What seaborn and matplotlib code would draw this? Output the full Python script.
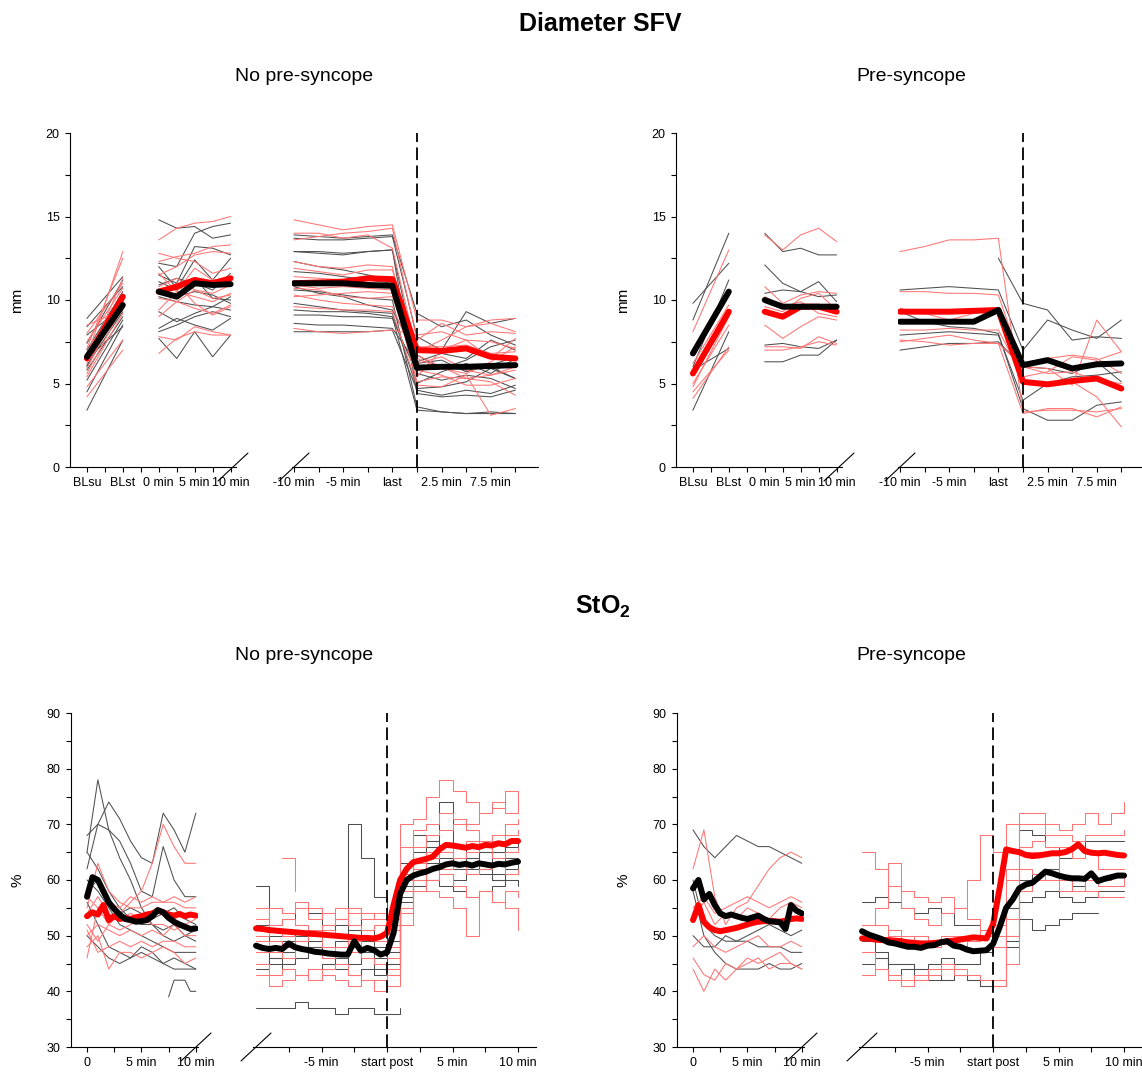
import numpy as np
import seaborn as sns
import matplotlib
matplotlib.use("Agg")
import matplotlib.pyplot as plt
from matplotlib.lines import Line2D

### Data

# top row: diameter SFV in mm
# categories of the first block / second block
cat_first = ["BLsu", "BLst", "0 min", "5 min", "10 min"]
cat_second = ["-10 min", "-5 min", "last", "2.5 min", "7.5 min"]

# No pre-syncope, grey subjects: baseline pairs (BLsu, BLst)
tl_gray_bl = [[3.4, 7.6], [4.5, 8.5], [5.2, 8.8], [5.8, 9.0], [6.1, 9.3], [6.5, 8.4],
              [7.0, 10.5], [7.4, 11.2], [7.9, 9.6], [8.4, 10.8], [8.9, 11.4], [6.0, 9.9]]
tl_red_bl = [[4.2, 7.0], [4.8, 7.6], [5.4, 9.2], [5.9, 10.1], [6.2, 11.3], [6.6, 12.9],
             [7.1, 12.5], [7.5, 10.7], [8.0, 11.0], [8.5, 9.4], [6.8, 10.3], [5.6, 9.6]]
# 0, 2.5, 5, 7.5, 10 min of tilt
tl_gray_early = [[14.8, 14.3, 14.4, 13.7, 13.9], [12.2, 12.0, 14.0, 14.4, 14.6],
                 [11.5, 11.0, 13.2, 13.1, 12.7], [12.0, 10.7, 12.4, 11.2, 12.5],
                 [11.1, 10.6, 11.3, 10.1, 10.0], [10.6, 10.2, 10.5, 10.3, 9.8],
                 [10.2, 9.9, 9.7, 9.6, 10.2], [9.3, 8.7, 9.2, 9.6, 9.4],
                 [8.1, 8.5, 9.0, 9.3, 9.0], [8.3, 8.9, 8.5, 8.2, 8.9],
                 [7.7, 6.5, 8.1, 6.6, 7.9], [10.9, 11.3, 11.0, 10.6, 11.6]]
tl_red_early = [[13.6, 14.3, 14.6, 14.7, 15.0], [12.3, 12.6, 12.8, 13.2, 13.3],
                [11.5, 12.0, 12.7, 12.9, 12.8], [12.8, 12.5, 12.3, 11.6, 11.9],
                [11.6, 10.5, 11.9, 11.2, 11.3], [10.8, 11.3, 10.6, 10.4, 10.9],
                [10.1, 9.9, 10.6, 10.1, 10.3], [9.4, 10.5, 10.2, 9.9, 10.4],
                [9.0, 9.9, 9.5, 9.2, 9.7], [7.8, 7.6, 8.4, 8.1, 7.9],
                [6.8, 7.7, 8.1, 7.9, 7.9], [10.5, 11.0, 9.8, 9.1, 9.6]]
# -10, -7.5, -5, -2.5, last, post 0, 2.5, 5, 7.5, 10 min
tl_gray_late = [[13.9, 13.8, 13.7, 13.8, 13.9, 9.2, 8.4, 8.8, 7.9, 7.3],
                [13.7, 13.6, 13.6, 13.7, 13.8, 7.8, 7.0, 9.3, 8.6, 8.9],
                [12.9, 12.9, 12.8, 12.9, 13.0, 6.3, 6.8, 6.5, 7.6, 7.0],
                [12.9, 12.8, 12.7, 12.9, 13.0, 4.4, 4.2, 4.3, 4.2, 4.6],
                [12.3, 12.0, 11.8, 11.5, 11.2, 5.8, 6.1, 5.8, 6.0, 5.3],
                [11.7, 11.6, 11.4, 11.2, 11.0, 5.0, 5.7, 6.2, 5.6, 6.5],
                [10.6, 10.5, 10.3, 10.1, 10.0, 3.6, 3.3, 3.2, 3.2, 3.2],
                [10.8, 10.4, 10.2, 9.7, 9.4, 6.7, 5.9, 6.4, 7.2, 7.6],
                [9.8, 9.6, 9.4, 9.3, 9.2, 4.7, 4.8, 5.1, 5.9, 5.3],
                [9.4, 9.3, 9.3, 9.2, 9.0, 3.4, 3.3, 3.2, 3.3, 3.2],
                [9.1, 9.1, 9.0, 9.0, 8.9, 5.6, 5.2, 5.5, 5.3, 4.7],
                [8.6, 8.5, 8.5, 8.4, 8.3, 6.2, 6.4, 5.7, 6.1, 6.6],
                [8.1, 8.1, 8.1, 8.1, 8.2, 4.6, 4.3, 4.6, 4.4, 4.9]]
tl_red_late = [[14.8, 14.5, 14.2, 14.4, 14.5, 8.8, 8.8, 8.4, 8.8, 8.9],
               [13.6, 13.8, 14.0, 14.1, 14.3, 7.6, 8.6, 7.9, 8.1, 8.0],
               [14.0, 14.0, 13.7, 13.9, 13.1, 6.9, 7.6, 8.4, 8.6, 8.1],
               [12.3, 12.0, 11.9, 12.1, 12.0, 5.4, 7.0, 7.6, 7.5, 7.1],
               [11.9, 11.7, 11.5, 11.8, 11.8, 7.2, 7.2, 7.3, 6.8, 6.9],
               [11.4, 11.3, 11.2, 11.3, 11.3, 6.5, 5.9, 5.6, 6.3, 7.2],
               [10.9, 10.7, 10.8, 10.7, 10.6, 5.1, 5.4, 5.3, 5.1, 4.3],
               [10.2, 10.3, 10.4, 10.5, 10.4, 5.8, 5.5, 4.9, 4.9, 5.3],
               [10.3, 10.0, 9.8, 9.7, 9.6, 6.2, 6.6, 5.8, 5.5, 6.0],
               [9.6, 9.5, 9.4, 9.4, 9.3, 4.9, 4.8, 5.5, 3.1, 3.5],
               [8.3, 8.1, 8.0, 8.1, 8.2, 7.9, 8.1, 7.6, 6.5, 7.7],
               [10.7, 10.6, 10.2, 10.1, 10.2, 6.7, 6.0, 5.3, 5.5, 5.8]]
tl_black_bl = [6.6, 9.7]
tl_red_mean_bl = [6.5, 10.2]
tl_black_early = [10.5, 10.2, 11.0, 10.9, 10.95]
tl_red_mean_early = [10.5, 10.8, 11.2, 11.0, 11.3]
tl_black_late = [11.0, 11.0, 11.0, 10.9, 10.85, 5.95, 6.0, 6.0, 6.05, 6.1]
tl_red_mean_late = [11.0, 11.05, 11.1, 11.3, 11.25, 7.0, 6.95, 7.1, 6.6, 6.5]

# Pre-syncope
tr_gray_bl = [[9.8, 12.2], [8.8, 14.0], [5.8, 7.1], [3.4, 8.1], [6.0, 11.2]]
tr_red_bl = [[8.1, 13.0], [6.2, 9.7], [4.5, 7.0], [5.0, 8.5], [4.1, 7.2], [4.8, 9.0]]
tr_gray_early = [[14.0, 12.9, 13.1, 12.7, 12.7], [12.1, 11.0, 10.5, 11.1, 9.9],
                 [10.4, 10.6, 10.5, 10.2, 10.3], [7.3, 7.4, 7.2, 7.1, 7.6],
                 [6.3, 6.3, 6.7, 6.7, 7.6]]
tr_red_early = [[13.9, 13.0, 13.9, 14.3, 13.5], [10.8, 9.8, 10.3, 10.5, 10.4],
                [10.2, 9.6, 9.9, 9.2, 9.0], [8.5, 7.7, 8.4, 9.0, 8.8],
                [7.2, 7.2, 7.1, 7.8, 7.4], [7.0, 7.0, 7.2, 7.5, 7.3],
                [9.6, 9.3, 10.1, 10.4, 9.4]]
tr_gray_late = [[10.6, 10.7, 10.8, 10.7, 10.6, 7.0, 8.8, 8.2, 7.7, 8.8],
                [np.nan, np.nan, np.nan, np.nan, 12.5, 9.8, 9.4, 7.6, 7.8, 7.7],
                [9.3, 8.7, 8.4, 8.3, 8.0, 3.5, 2.8, 2.8, 3.7, 3.9],
                [7.9, 8.0, 8.1, 8.0, 7.9, 4.0, 5.0, 5.4, 5.5, 5.7],
                [7.0, 7.2, 7.4, 7.4, 7.5, 6.0, 5.9, 5.6, 6.3, 5.1]]
tr_red_late = [[12.9, 13.2, 13.6, 13.6, 13.7, 3.3, 3.4, 3.4, 3.3, 3.5],
               [10.5, 10.5, 10.4, 10.4, 10.3, 6.0, 5.6, 5.7, 5.2, 5.0],
               [9.5, 9.2, 8.8, 9.2, 9.5, 6.0, 6.5, 6.7, 6.5, 5.6],
               [8.2, 8.2, 8.3, 8.2, 8.2, 5.4, 5.7, 6.6, 6.4, 6.9],
               [7.5, 7.7, 7.9, 7.6, 7.4, 3.2, 3.5, 3.5, 3.0, 3.6],
               [7.6, 7.5, 7.3, 7.4, 7.4, 6.0, 5.9, 4.9, 8.8, 6.9],
               [9.2, 9.3, 9.3, 9.3, 9.2, 5.0, 4.9, 5.1, 4.2, 2.4]]
tr_black_bl = [6.8, 10.5]
tr_red_mean_bl = [5.6, 9.3]
tr_black_early = [10.0, 9.6, 9.6, 9.6, 9.6]
tr_red_mean_early = [9.3, 9.0, 9.6, 9.6, 9.3]
tr_black_late = [8.7, 8.7, 8.7, 8.7, 9.4, 6.1, 6.4, 5.9, 6.15, 6.2]
tr_red_mean_late = [9.3, 9.3, 9.3, 9.35, 9.4, 5.1, 4.95, 5.15, 5.3, 4.7]

# bottom row: StO2 in %, thin lines sampled every minute
t_early_1 = np.arange(0, 11)        # 0..10 min of tilt
t_late_1 = np.arange(-10, 11)       # -10 .. start post .. 10 min
t_early_h = np.arange(0, 10.5, 0.5)  # means, every half minute
t_late_h = np.arange(-10, 10.5, 0.5)

bl_gray_early = [[65, 78, 69, 64, 60, 55, 52, 50, 49, 50, 49],
                 [62, 70, 74, 71, 67, 64, 63, 72, 69, 65, 72],
                 [68, 70, 69, 67, 63, 58, 57, 66, 60, 57, 57],
                 [65, 62, 58, 55, 53, 52, 52, 51, 52, 50, 51],
                 [56, 52, 48, 47, 46, 47, 46, 45, 46, 45, 44],
                 [50, 48, 46, 45, 46, 48, 47, 45, 44, 44, 44],
                 [60, 58, 55, 52, 51, 50, 49, 48, 47, 47, 47],
                 [58, 60, 56, 54, 55, 54, 53, 54, 55, 53, 52]]
bl_gray_short_t = [7.5, 8, 9, 9.5, 10]
bl_gray_short_v = [39, 42, 42, 40, 40]
bl_red_early = [[46, 55, 52, 54, 56, 58, 63, 70, 66, 63, 63],
                [55, 63, 58, 56, 55, 55, 56, 56, 56, 55, 55],
                [54, 57, 54, 53, 54, 53, 54, 54, 53, 54, 54],
                [50, 52, 51, 50, 51, 50, 51, 50, 52, 50, 50],
                [48, 50, 44, 47, 47, 46, 47, 48, 47, 45, 46],
                [52, 49, 52, 51, 52, 53, 52, 52, 51, 52, 53],
                [57, 55, 56, 55, 57, 56, 57, 56, 57, 56, 57],
                [51, 47, 48, 49, 48, 49, 48, 49, 49, 48, 48]]
nan = np.nan
bl_gray_late = [[59, 52, 53, 55, 54, 52, 53, 55, 51, 50, 49, 60, 65, 67, 66, 64, 63, 65, 64, 66, 67],
                [50, 49, 48, 49, 48, 47, 46, 50, 47, 46, 45, 58, 62, 63, 64, 62, 61, 62, 60, 62, 63],
                [47, 46, 45, 46, 47, 46, 45, 70, 64, 57, 45, 63, 68, 66, 65, 63, 64, 66, 65, 67, 66],
                [45, 46, 47, 46, 48, 47, 46, 45, 46, 44, 44, 55, 60, 62, 63, 62, 64, 65, 63, 64, 62],
                [44, 45, 44, 43, 44, 45, 44, 43, 44, 43, 43, 56, 59, 60, 61, 60, 62, 61, 60, 61, 62],
                [48, 47, 49, 48, 47, 48, 49, 48, 47, 48, 47, 57, 61, 64, 74, 66, 63, 62, 61, 63, 64],
                [37, 37, 37, 38, 37, 37, 36, 37, 37, 36, 36, 37, nan, nan, nan, nan, nan, nan, nan, nan, nan],
                [52, 50, 51, 50, 49, 50, 52, 51, 49, 48, 47, 59, 63, 60, 59, 58, 57, 58, 59, 60, 59]]
bl_red_late = [[51, 55, 54, 56, 55, 54, 53, 55, 54, 53, 52, 70, 71, 75, 78, 76, 74, 72, 74, 72, 74],
               [53, 52, 53, 52, 51, 52, 53, 52, 51, 52, 51, 66, 69, 70, 72, 71, 70, 72, 73, 76, 74],
               [47, 49, 48, 49, 50, 48, 47, 49, 48, 47, 46, 60, 66, 68, 69, 70, 69, 67, 68, 70, 71],
               [43, 41, 42, 43, 44, 43, 42, 41, 42, 40, 41, 55, 62, 64, 65, 66, 67, 66, 67, 68, 69],
               [45, 43, 44, 43, 42, 44, 45, 43, 42, 42, 43, 52, 58, 60, 62, 63, 61, 62, 63, 61, 62],
               [55, 55, 54, 55, 53, 54, 55, 54, 53, 54, 53, 61, 63, 65, 66, 64, 65, 66, 64, 65, 66],
               [50, 51, 50, 49, 50, 51, 50, 49, 50, 49, 48, 58, 61, 60, 61, 59, 57, 58, 56, 58, 57],
               [nan, nan, 64, 58, nan, nan, nan, nan, nan, nan, nan, nan, nan, nan, nan, nan, nan, nan, nan, nan, nan],
               [49, 47, 46, 48, 47, 46, 48, 47, 46, 45, 44, 54, 60, 58, 57, 55, 50, 58, 56, 55, 51]]
bl_black_early = [57, 60.5, 60, 58, 56, 54.8, 53.8, 53, 52.8, 52.5, 52.6, 52.8, 53.5, 54.6,
                  54.2, 53.2, 52.5, 52, 51.6, 51.2, 51.3]
bl_red_mean_early = [53.5, 54.2, 53.8, 55.5, 52.8, 53.5, 53, 53.2, 53, 53.3, 53.5, 53.8, 54,
                     54.5, 54.2, 53.8, 53.6, 53.9, 53.5, 53.8, 53.6]
bl_black_late = [48.2, 47.8, 47.6, 47.8, 47.6, 48.6, 47.9, 47.6, 47.4, 47.1, 47.0, 46.8, 46.7,
                 46.6, 46.6, 49.0, 47.3, 47.8, 47.4, 46.6, 47.0, 50.5, 57.5, 60.0, 60.8, 61.2,
                 61.5, 62.0, 62.3, 62.8, 63.0, 62.7, 62.9, 62.6, 63.0, 62.8, 62.6, 62.9, 62.8,
                 63.1, 63.3]
bl_red_mean_late = [51.3, 51.2, 51.0, 50.9, 50.8, 50.7, 50.6, 50.5, 50.4, 50.3, 50.2, 50.1,
                    50.0, 49.9, 49.8, 49.7, 49.6, 49.6, 49.5, 49.8, 50.5, 55.5, 60.0, 62.0,
                    63.2, 63.5, 63.8, 64.2, 65.5, 66.3, 66.2, 66.0, 65.8, 66.1, 65.9, 66.3,
                    66.2, 66.6, 66.4, 67.0, 67.0]

br_gray_early = [[69, 66, 64, 66, 68, 67, 66, 66, 65, 64, 63],
                 [60, 52, 50, 49, 49, 49, 48, 48, 48, 47, 47],
                 [58, 50, 47, 45, 44, 44, 44, 45, 44, 44, 45],
                 [50, 48, 48, 50, 49, 50, 51, 52, 51, 50, 51]]
br_red_early = [[62, 69, 57, 52, 55, 56, 59, 62, 64, 65, 64],
                [55, 57, 54, 55, 56, 57, 56, 55, 56, 57, 56],
                [44, 40, 44, 42, 44, 45, 46, 44, 45, 45, 44],
                [46, 43, 42, 45, 44, 46, 45, 46, 47, 45, 44],
                [53, 56, 52, 54, 53, 55, 54, 53, 55, 56, 55],
                [48, 50, 48, 47, 48, 49, 50, 48, 48, 49, 48]]
br_gray_late = [[56, 57, 56, 55, 54, 55, 54, 52, 52, 51, 50, 55, 69, 68, 66, 64, 66, 67, 67, 67, 67],
                [nan, 47, 45, 45, 44, 43, 42, 43, 42, 41, 41, 50, 53, 51, 52, 53, 54, 54, 54, nan, nan],
                [49, 46, 43, 44, 42, 42, 42, 43, 42, 41, 41, 48, 60, 61, 62, 60, 59, 60, 60, 61, 61],
                [45, 46, 45, 45, 44, 45, 46, 45, 45, 47, 48, 49, 56, 57, 58, 57, 56, 57, 58, 58, 58]]
br_red_late = [[65, 62, 59, 58, 57, 56, 57, 55, 60, 68, 65, 70, 72, 72, 70, 69, 70, 72, 70, 72, 74],
               [52, 55, 63, 55, 53, 52, 54, 55, 53, 50, 50, 62, 70, 70, 68, 68, 67, 68, 68, 68, 69],
               [47, 44, 43, 42, 42, 43, 44, 43, 43, 42, 42, 50, 62, 61, 60, 58, 60, 60, 59, 59, 60],
               [52, 52, 50, 49, 50, 49, 50, 48, 49, 51, 52, 60, 66, 67, 66, 66, 64, 65, 62, 62, 62],
               [43, 44, 42, 41, 43, 44, 45, 44, 43, 42, 41, 45, 58, 60, 60, 58, 60, 58, 57, 57, 57],
               [50, 49, 51, 50, 49, 48, 49, 50, 49, 50, 48, 53, 65, 65, 65, 60, 58, 60, 60, 61, 60]]
br_black_early = [58.5, 60.0, 56.5, 57.5, 55.5, 54.0, 53.5, 53.8, 53.5, 53.2, 53.0, 53.3, 53.6,
                  53.0, 52.6, 52.5, 52.4, 51.2, 55.5, 54.5, 54.0]
br_red_mean_early = [52.8, 55.5, 52.5, 51.5, 51.0, 50.8, 51.0, 51.2, 51.4, 51.7, 52.0, 52.3,
                     52.5, 52.6, 52.6, 52.6, 52.5, 52.7, 53.0, 53.1, 53.0]
br_black_late = [50.8, 50.2, 49.8, 49.4, 48.8, 48.6, 48.3, 48.0, 48.0, 47.8, 48.2, 48.3, 48.8,
                 49.0, 48.2, 48.0, 47.5, 47.2, 47.3, 47.4, 48.5, 51.5, 55.0, 56.5, 58.5, 59.2,
                 59.5, 60.5, 61.5, 61.2, 60.8, 60.5, 60.3, 60.3, 60.2, 61.2, 59.8, 60.2, 60.5,
                 60.8, 60.8]
br_red_mean_late = [49.5, 49.5, 49.3, 49.2, 49.2, 49.1, 49.0, 48.8, 48.7, 48.6, 48.6, 48.7,
                    48.8, 49.0, 49.1, 49.3, 49.5, 49.7, 49.6, 49.5, 52.0, 58.5, 65.5, 65.2,
                    65.0, 64.5, 64.3, 64.4, 64.6, 64.8, 64.8, 65.0, 65.5, 66.4, 65.2, 64.9,
                    64.8, 64.9, 64.7, 64.5, 64.4]


### Style
sns.set_style("ticks")
plt.rcParams["font.family"] = ["Liberation Sans", "DejaVu Sans"]
plt.rcParams["mathtext.fontset"] = "custom"
plt.rcParams["mathtext.rm"] = "Liberation Sans"
plt.rcParams["mathtext.bf"] = "Liberation Sans:bold"
plt.rcParams["text.color"] = "black"
plt.rcParams["axes.labelcolor"] = "black"

GRAY = "#4f4f4f"
PINK = "#ff7474"
RED = "#ff0000"
THIN = 0.75
THICK = 4.3

W, H = 1142, 1073
fig = plt.figure(figsize=(W / 100, H / 100), dpi=100)


def add_ax(x0, x1, ytop, ybot):
    return fig.add_axes([x0 / W, 1 - ybot / H, (x1 - x0) / W, (ybot - ytop) / H])


def slash(xc, yc):
    # little "//" of the broken axis
    fig.add_artist(Line2D([(xc - 15) / W, (xc + 15) / W], [1 - (yc + 14) / H, 1 - (yc - 14) / H],
                          color="k", lw=0.8))


def line(ax, x, y, color, lw, steps=False, z=2):
    kw = dict(drawstyle="steps-post") if steps else {}
    sns.lineplot(x=list(x), y=list(y), ax=ax, color=color, lw=lw, errorbar=None, sort=False,
                 solid_capstyle="round", zorder=z, legend=False, **kw)


def style(ax, show_y=True):
    for s in ["top", "right"]:
        ax.spines[s].set_visible(False)
    ax.spines["bottom"].set_linewidth(0.8)
    ax.spines["left"].set_linewidth(0.8)
    ax.spines["bottom"].set_color("black")
    ax.spines["left"].set_color("black")
    ax.tick_params(which="both", direction="out", length=3.5, width=0.8, labelsize=9, pad=4,
                   colors="black")
    if not show_y:
        ax.spines["left"].set_visible(False)
        ax.tick_params(axis="y", which="both", left=False, labelleft=False)
    ax.set_xlabel("")
    ax.set_ylabel("")


### Top row: Diameter SFV
top_sets = [
    (0, tl_gray_bl, tl_red_bl, tl_gray_early, tl_red_early, tl_gray_late, tl_red_late,
     tl_black_bl, tl_red_mean_bl, tl_black_early, tl_red_mean_early, tl_black_late, tl_red_mean_late),
    (606, tr_gray_bl, tr_red_bl, tr_gray_early, tr_red_early, tr_gray_late, tr_red_late,
     tr_black_bl, tr_red_mean_bl, tr_black_early, tr_red_mean_early, tr_black_late, tr_red_mean_late),
]
pos_bl = [0, 1]
pos_early = [2, 2.5, 3, 3.5, 4]
pos_late = list(range(10))

for (off, g_bl, r_bl, g_e, r_e, g_l, r_l, kb, rb, ke, re_, kl, rl) in top_sets:
    axA = add_ax(70 + off, 236 + off, 133, 467)
    axB = add_ax(291.5 + off, 537.5 + off, 133, 467)

    for rows, col in [(g_bl, GRAY), (r_bl, PINK)]:
        for r in rows:
            line(axA, pos_bl, r, col, THIN)
    for rows, col in [(g_e, GRAY), (r_e, PINK)]:
        for r in rows:
            line(axA, pos_early, r, col, THIN)
    for rows, col in [(g_l, GRAY), (r_l, PINK)]:
        for r in rows:
            line(axB, pos_late, r, col, THIN)
    line(axA, pos_bl, rb, RED, THICK, z=3)
    line(axA, pos_bl, kb, "black", THICK, z=4)
    line(axA, pos_early, re_, RED, THICK, z=3)
    line(axA, pos_early, ke, "black", THICK, z=4)
    line(axB, pos_late, rl, RED, THICK, z=3)
    line(axB, pos_late, kl, "black", THICK, z=4)
    axB.axvline(5, color="black", lw=1.3, dashes=(7, 3), zorder=5)

    for ax in (axA, axB):
        ax.set_ylim(0, 20)
        ax.set_yticks([0, 5, 10, 15, 20])
        ax.set_yticks([2.5, 7.5, 12.5, 17.5], minor=True)
    axA.set_xlim(-0.47, 4.15)
    axA.set_xticks([0, 1, 2, 3, 4], cat_first)
    axA.set_xticks([0.5, 1.5, 2.5, 3.5], minor=True)
    axB.set_xlim(-0.1, 9.9)
    axB.set_xticks([0, 2, 4, 6, 8], cat_second)
    axB.set_xticks([1, 3, 5, 7, 9], minor=True)
    style(axA)
    style(axB, show_y=False)
    slash(233 + off, 467)
    slash(294 + off, 467)
    fig.text((17 + off) / W, 1 - 300 / H, "mm", rotation=90, ha="center", va="center", fontsize=11)

### Bottom row: StO2
bottom_sets = [
    (0, bl_gray_early, bl_red_early, bl_gray_late, bl_red_late,
     bl_black_early, bl_red_mean_early, bl_black_late, bl_red_mean_late),
    (606, br_gray_early, br_red_early, br_gray_late, br_red_late,
     br_black_early, br_red_mean_early, br_black_late, br_red_mean_late),
]
for (off, g_e, r_e, g_l, r_l, ke, re_, kl, rl) in bottom_sets:
    axC = add_ax(71 + off, 198 + off, 713, 1047)
    axD = add_ax(253.4 + off, 536.4 + off, 713, 1047)

    for rows, col in [(g_e, GRAY), (r_e, PINK)]:
        for r in rows:
            line(axC, t_early_1, r, col, THIN)
    if off == 0:
        line(axC, bl_gray_short_t, bl_gray_short_v, GRAY, THIN)
    for rows, col in [(g_l, GRAY), (r_l, PINK)]:
        for r in rows:
            line(axD, t_late_1, r, col, THIN, steps=True)
    line(axC, t_early_h, re_, RED, THICK, z=3)
    line(axC, t_early_h, ke, "black", THICK, z=4)
    line(axD, t_late_h, rl, RED, THICK, z=3)
    line(axD, t_late_h, kl, "black", THICK, z=4)
    axD.axvline(0, color="black", lw=1.3, dashes=(7, 3), zorder=5)

    for ax in (axC, axD):
        ax.set_ylim(30, 90)
        ax.set_yticks([30, 40, 50, 60, 70, 80, 90])
        ax.set_yticks([35, 45, 55, 65, 75, 85], minor=True)
    axC.set_xlim(-1.47, 10.2)
    axC.set_xticks([0, 5, 10], ["0", "5 min", "10 min"])
    axC.set_xticks([2.5, 7.5], minor=True)
    axD.set_xlim(-10.2, 11.4)
    axD.set_xticks([-5, 0, 5, 10], ["-5 min", "start post", "5 min", "10 min"])
    axD.set_xticks([-7.5, -2.5, 2.5, 7.5], minor=True)
    style(axC)
    style(axD, show_y=False)
    slash(196 + off, 1047)
    slash(256 + off, 1047)
    fig.text((17 + off) / W, 1 - 880 / H, "%", rotation=90, ha="center", va="center", fontsize=11)

### Titles
fig.text(600 / W, 1 - 24 / H, "Diameter SFV", ha="center", va="center", fontsize=18, weight="bold")
fig.text(304 / W, 1 - 76 / H, "No pre-syncope", ha="center", va="center", fontsize=14)
fig.text(911 / W, 1 - 76 / H, "Pre-syncope", ha="center", va="center", fontsize=14)
fig.text(603 / W, 1 - 607 / H, r"StO$_\mathbf{2}$", ha="center", va="center", fontsize=18, weight="bold")
fig.text(304 / W, 1 - 656 / H, "No pre-syncope", ha="center", va="center", fontsize=14)
fig.text(911 / W, 1 - 656 / H, "Pre-syncope", ha="center", va="center", fontsize=14)

fig.savefig("out.png", dpi=100)
